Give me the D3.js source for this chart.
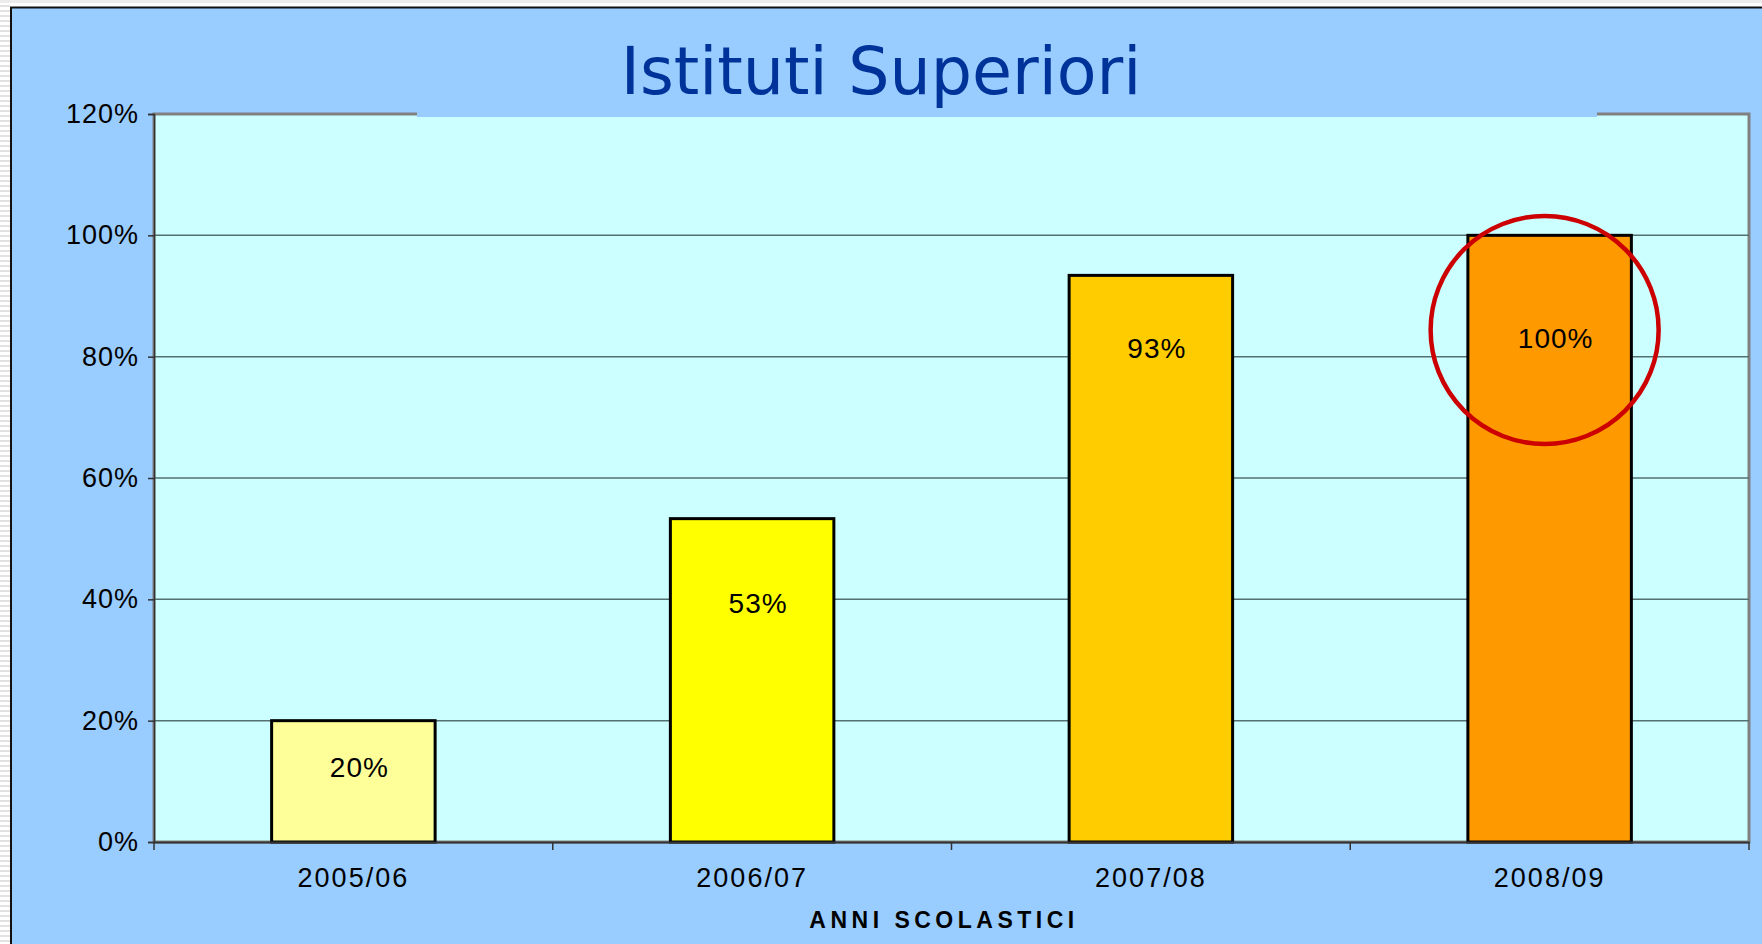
<!DOCTYPE html>
<html>
<head>
<meta charset="utf-8">
<script src="https://cdn.jsdelivr.net/npm/d3@7"></script>
<style>
body{margin:0;background:#fff;overflow:hidden}
text{font-family:'Liberation Sans',Arial,sans-serif}
</style>
</head>
<body>
<div id="chart"></div>
<script>
var years = ['2005/06','2006/07','2007/08','2008/09']
var values = [0.20,0.533,0.934,1.00]
var colors = ['#FFFF99','#FFFF00','#FFCC00','#FF9900']
var labelLevel = [0.124,0.394,0.814,0.831]
var yTicks = [0,0.2,0.4,0.6,0.8,1.0,1.2]
var titleText = 'Istituti Superiori'
var axisTitle = 'ANNI SCOLASTICI'

var W = 1762, H = 944
var plotLeft = 154, plotRight = 1749, plotTop = 114, plotBottom = 842

var svg = d3.select('#chart').append('svg')
            .attr('width', W)
            .attr('height', H)

// slide edge
svg.append('rect').attr('x',0).attr('y',0).attr('width',W).attr('height',H).attr('fill','#fff')
svg.append('rect').attr('x',0).attr('y',0).attr('width',W).attr('height',3).attr('fill','#ececec')
for (var i = 6; i < H; i += 5){
	svg.append('line').attr('x1',0).attr('x2',10).attr('y1',i).attr('y2',i)
	   .attr('stroke','#e2e2e2').attr('stroke-width',2)
}
svg.append('rect').attr('x',11).attr('y',7.5).attr('width',W).attr('height',H)
   .attr('fill','#99CCFF').attr('stroke','#111').attr('stroke-width',2)

var x = d3.scaleBand().domain(years).range([plotLeft,plotRight])
var y = d3.scaleLinear().domain([0,1.2]).range([plotBottom,plotTop])
var bw = x.bandwidth()*0.41

// plot area
svg.append('rect').attr('x',plotLeft).attr('y',plotTop).attr('width',plotRight-plotLeft).attr('height',plotBottom-plotTop)
   .attr('fill','#CCFFFF').attr('stroke','#808080').attr('stroke-width',3)

// gridlines
svg.append('g').selectAll('line').data(yTicks.slice(1,-1)).join('line')
   .attr('x1',plotLeft).attr('x2',plotRight)
   .attr('y1',d=>y(d)).attr('y2',d=>y(d))
   .attr('stroke','#557070').attr('stroke-width',1.5)

// title band over top border
svg.append('rect').attr('x',417).attr('y',95).attr('width',1180).attr('height',22).attr('fill','#99CCFF')
svg.append('text').attr('x',881).attr('y',94)
   .attr('text-anchor','middle')
   .style('font-family','"DejaVu Sans",Verdana,sans-serif')
   .style('font-size','65px')
   .attr('fill','#003399')
   .text(titleText)

// bars
svg.append('g').selectAll('rect').data(values).join('rect')
   .attr('x',(d,i)=>x(years[i])+x.bandwidth()/2-bw/2)
   .attr('y',d=>y(d))
   .attr('width',bw)
   .attr('height',d=>plotBottom-y(d))
   .attr('fill',(d,i)=>colors[i])
   .attr('stroke','#000').attr('stroke-width',3)

// value labels
svg.append('g').selectAll('text').data(values).join('text')
   .attr('x',(d,i)=>x(years[i])+x.bandwidth()/2+6)
   .attr('y',(d,i)=>y(labelLevel[i]))
   .attr('dy','0.35em')
   .attr('text-anchor','middle')
   .style('font-size','28px')
   .style('letter-spacing','1px')
   .attr('fill','#000')
   .text(d=>d3.format('.0%')(d))

// y axis
var yAxis = svg.append('g').attr('transform','translate('+plotLeft+',0)')
   .call(d3.axisLeft(y).tickValues(yTicks).tickFormat(d3.format('.0%')).tickSize(6).tickPadding(9))
yAxis.select('.domain').attr('stroke','#333').attr('stroke-width',1.5)
yAxis.selectAll('.tick line').attr('stroke','#333').attr('stroke-width',1.5)
yAxis.selectAll('.tick text')
   .style('font-family','"Liberation Sans",Arial,sans-serif')
   .style('font-size','27px').style('letter-spacing','1px').attr('fill','#000')

// x axis
var xAxis = svg.append('g').attr('transform','translate(0,'+plotBottom+')')
   .call(d3.axisBottom(x).tickSize(0).tickPadding(26))
xAxis.select('.domain').attr('stroke','#333').attr('stroke-width',2)
xAxis.selectAll('.tick text')
   .style('font-family','"Liberation Sans",Arial,sans-serif')
   .style('font-size','27px').style('letter-spacing','2px').attr('fill','#000')
var bounds = years.map(d=>x(d)).concat([x(years[years.length-1])+x.bandwidth()])
svg.append('g').selectAll('line').data(bounds).join('line')
   .attr('x1',d=>d).attr('x2',d=>d)
   .attr('y1',plotBottom).attr('y2',plotBottom+8)
   .attr('stroke','#333').attr('stroke-width',1.5)

svg.append('text').attr('x',944).attr('y',928)
   .attr('text-anchor','middle')
   .style('font-size','23px').style('font-weight','bold').style('letter-spacing','4.5px')
   .attr('fill','#000')
   .text(axisTitle)

// highlight circle around the last bar
svg.append('circle')
   .attr('cx',x(years[3])+x.bandwidth()/2-5)
   .attr('cy',y(0.844))
   .attr('r',114)
   .attr('fill','none').attr('stroke','#CC0000').attr('stroke-width',4.5)
</script>
</body>
</html>
